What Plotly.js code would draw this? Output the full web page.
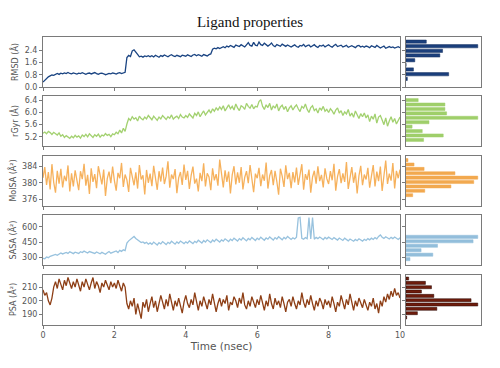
<!DOCTYPE html>
<html>
<head>
<meta charset="utf-8">
<script src="https://cdn.plot.ly/plotly-3.0.1.min.js"></script>
<style>html,body{margin:0;padding:0;background:#fff;}#chart{width:500px;height:368px;}</style>
</head>
<body>
<div id="chart"></div>
<script>
// ---- Data ----
const TIME_STEP_NS = 0.05;
const CHART_TITLE = "Ligand properties";
const X_TITLE = "Time (nsec)";
const xTickVals = [0, 2, 4, 6, 8, 10];

const panelNames = ["RMSD (Å)", "rGyr (Å)", "MolSA (Å²)", "SASA (Å²)", "PSA (Å²)"];

const rmsd = [
  0.32,0.45,0.58,0.66,0.72,0.78,0.76,0.84,0.88,0.82,0.9,0.86,0.92,0.87,0.94,0.88,0.85,0.91,0.89,0.84,
  0.9,0.87,0.93,0.86,0.82,0.88,0.91,0.85,0.89,0.94,0.87,0.83,0.88,0.9,0.86,0.8,0.84,0.89,0.86,0.91,
  0.88,0.84,0.9,0.93,0.87,0.91,0.95,1.92,2.05,1.98,2.35,2.42,2.3,2.12,1.96,2.0,1.94,2.02,1.98,2.04,
  1.97,2.03,1.95,2.06,2.0,1.93,2.04,1.99,2.08,2.01,1.96,2.05,2.1,2.02,1.98,2.06,2.03,1.97,2.07,2.04,
  2.0,2.09,2.05,1.98,2.08,2.12,2.03,2.1,2.06,2.0,2.11,2.07,2.02,2.1,2.15,2.45,2.52,2.48,2.56,2.5,
  2.58,2.62,2.55,2.66,2.6,2.7,2.64,2.58,2.72,2.68,2.63,2.75,2.69,2.6,2.74,2.88,2.7,2.66,2.9,2.72,
  2.68,2.92,2.75,2.7,2.85,2.78,2.66,2.74,2.86,2.69,2.62,2.76,2.71,2.65,2.79,2.7,2.64,2.73,2.68,2.6,
  2.67,2.74,2.63,2.58,2.7,2.66,2.77,2.62,2.69,2.73,2.6,2.68,2.75,2.64,2.57,2.7,2.66,2.72,2.61,2.68,
  2.74,2.65,2.59,2.7,2.77,2.63,2.68,2.72,2.6,2.66,2.71,2.58,2.64,2.69,2.62,2.56,2.67,2.7,2.6,2.65,
  2.58,2.66,2.62,2.55,2.68,2.63,2.57,2.7,2.61,2.54,2.6,2.66,2.52,2.58,2.63,2.56,2.6,2.53,2.57,2.62,2.55
];
const rgyr = [
  5.32,5.36,5.3,5.38,5.34,5.28,5.35,5.31,5.26,5.33,5.22,5.27,5.18,5.24,5.2,5.15,5.22,5.17,5.25,5.19,
  5.23,5.16,5.26,5.21,5.28,5.2,5.3,5.24,5.18,5.27,5.22,5.29,5.19,5.26,5.23,5.31,5.25,5.28,5.21,5.3,
  5.27,5.35,5.3,5.42,5.33,5.48,5.38,5.62,5.8,5.74,5.86,5.78,5.83,5.72,5.88,5.8,5.76,5.85,5.79,5.9,
  5.82,5.76,5.88,5.8,5.74,5.85,5.79,5.9,5.83,5.77,5.86,5.81,5.92,5.78,5.84,5.88,5.8,5.93,5.85,5.82,
  5.9,5.84,5.95,5.88,5.82,5.97,5.9,6.02,5.86,5.96,6.05,5.92,6.0,6.08,5.98,6.12,6.04,6.15,6.08,6.18,
  6.1,6.22,6.05,6.16,6.25,6.12,6.2,6.08,6.28,6.15,6.06,6.22,6.18,6.1,6.3,6.2,6.14,6.26,6.12,6.2,
  6.18,6.36,6.42,6.2,6.1,6.25,6.16,6.3,6.08,6.22,6.14,6.28,6.05,6.18,6.24,6.1,6.2,6.02,6.15,6.22,
  6.08,6.18,6.25,6.12,6.03,6.2,6.14,6.28,6.1,6.0,6.16,6.22,6.06,6.12,5.98,6.15,6.08,6.2,6.04,6.1,
  6.0,6.12,6.05,5.94,6.08,6.15,5.98,6.06,5.9,6.02,5.95,6.1,5.88,5.98,5.84,6.05,5.92,5.8,5.96,5.86,
  5.98,5.82,5.92,5.7,5.88,5.78,5.95,5.65,5.85,5.9,5.75,5.6,5.82,5.55,5.72,5.86,5.68,5.8,5.62,5.75,5.85
];
const molsa = [
  381.2,383.8,379.5,382.6,378.4,384.5,380.1,377.6,382.9,379.8,383.4,378.9,381.7,380.4,384.2,377.9,382.3,379.1,383.0,380.6,
  378.2,382.8,380.9,384.6,379.3,381.9,377.3,383.5,380.2,382.1,378.7,384.0,381.4,379.6,383.2,376.8,381.0,382.7,379.9,383.9,
  380.5,378.1,382.4,381.1,384.8,379.0,382.0,380.7,377.8,383.6,381.5,379.4,382.5,378.6,384.3,380.8,381.8,377.2,383.1,380.0,
  382.2,379.2,384.1,381.3,378.3,382.8,380.3,383.7,379.7,381.6,385.2,378.8,382.0,380.9,383.3,377.5,381.2,382.6,379.5,384.4,
  380.7,382.9,378.5,381.8,383.9,379.8,381.0,377.9,382.4,380.4,384.7,379.1,382.3,381.4,378.2,383.5,380.6,382.1,379.3,385.6,
  381.5,378.9,383.0,380.2,382.7,377.4,381.9,384.0,379.6,382.5,380.0,383.8,378.4,381.3,382.8,379.9,384.3,380.8,377.7,382.2,
  381.1,383.6,379.2,382.0,380.5,384.9,378.6,381.7,383.1,379.4,382.9,380.3,377.1,383.4,381.6,379.0,384.2,380.9,382.4,378.7,
  382.6,380.1,383.7,379.5,381.8,384.5,378.3,382.1,380.7,383.2,377.6,381.4,382.9,379.8,384.0,380.4,381.9,378.9,383.5,381.0,
  379.7,382.8,380.6,384.6,378.1,381.5,383.3,379.9,382.3,380.2,385.0,378.5,381.2,383.8,380.0,382.5,377.4,381.7,384.1,379.4,
  382.0,380.8,383.6,378.8,381.6,384.3,379.1,382.7,380.4,383.9,378.0,381.3,385.4,379.7,382.2,380.5,384.8,378.6,382.9,381.1,383.2
];
const sasa = [
  292,288,305,298,312,318,325,330,322,338,345,335,342,350,340,355,348,338,352,346,
  340,356,348,362,350,344,358,352,346,340,354,348,336,350,344,332,346,358,342,350,
  352,364,348,370,360,375,368,440,462,478,492,505,485,470,458,445,452,438,448,430,
  442,428,450,436,422,445,432,455,440,426,448,435,458,444,430,452,438,460,446,435,
  452,440,462,448,436,458,445,468,452,440,465,450,472,458,446,470,455,478,462,450,
  472,460,482,468,455,478,465,488,472,460,484,470,492,476,462,485,472,495,480,466,
  488,474,498,482,468,490,478,500,485,470,494,480,502,486,472,496,482,505,490,476,
  492,480,498,685,690,486,478,494,484,688,480,690,478,496,484,500,488,474,495,482,
  498,486,476,494,482,470,490,478,466,488,474,462,480,470,458,476,464,482,470,460,
  478,466,484,472,488,476,494,482,505,520,498,486,502,490,480,496,484,500,488,476,492
];
const psa = [
  208,204,206,200,197,202,210,214,209,216,212,208,215,211,217,213,209,214,210,216,
  212,207,214,210,216,211,208,213,217,209,214,211,206,213,210,215,212,208,214,210,
  213,209,215,211,207,213,210,198,194,200,196,202,190,198,193,187,199,195,201,192,
  198,203,195,200,192,197,204,199,194,201,196,205,198,193,200,196,202,197,191,199,
  204,198,195,201,197,206,199,193,200,196,203,198,194,201,197,205,199,192,198,202,
  196,201,198,204,193,199,197,203,200,195,202,198,206,197,194,200,196,203,199,195,
  201,197,204,199,193,200,196,205,198,194,202,197,200,195,203,198,192,199,201,196,
  203,198,194,200,197,206,199,195,201,197,204,198,193,200,196,202,199,194,201,197,
  200,195,203,198,192,199,196,204,198,194,201,197,205,199,193,200,196,202,198,195,
  201,197,193,199,196,202,194,198,191,200,196,203,199,205,201,207,203,209,204,206,202
];

// Histogram bins (centres) and bar lengths (counts)
const rmsdBins   = [0.53, 0.83, 1.14, 1.44, 1.74, 2.05, 2.35, 2.65, 2.95];
const rmsdCounts = [4, 126, 22, 0, 26, 100, 108, 212, 60];
const rgyrBins   = [5.10, 5.245, 5.39, 5.535, 5.68, 5.825, 5.97, 6.115, 6.26, 6.405];
const rgyrCounts = [52, 110, 48, 18, 68, 212, 120, 115, 115, 36];
const molsaBins   = [377.0, 378.06, 379.12, 380.18, 381.24, 382.3, 383.36, 384.42, 385.48];
const molsaCounts = [20, 56, 134, 202, 214, 146, 54, 24, 6];
const sasaBins   = [284, 327.5, 371, 414.5, 458, 501.5];
const sasaCounts = [12, 80, 45, 94, 200, 214];
const psaBins   = [187.8, 190.96, 194.12, 197.28, 200.44, 203.6, 206.76, 209.92, 213.08, 216.24];
const psaCounts = [2, 34, 92, 214, 194, 83, 46, 76, 58, 8];

// Y tick values per panel
const rmsdTicks  = [0, 0.8, 1.6, 2.4];
const rgyrTicks  = [5.2, 5.6, 6.0, 6.4];
const molsaTicks = [376, 380, 384];
const sasaTicks  = [300, 450, 600];
const psaTicks   = [190, 200, 210];

// ---- Styling / layout ----
const W = 500, H = 368;
const lineColors = ["#1a4482", "#a3d170", "#f6b15c", "#98c2de", "#8e3f16"];
const barColors  = ["#1b3f7c", "#9fcf6a", "#f2a94f", "#93bedb", "#6e1c0c"];
const barEdges   = ["#142f5e", "#9fcf6a", "#f2a94f", "#93bedb", "#2a0905"];
const yRanges = [[0, 3.25], [4.9, 6.54], [374.5, 386.6], [227, 714], [182.7, 219.2]];
const panelTopsPx = [37, 96, 155.5, 215, 274.5];
const PANEL_H = 50;
const mainX = [43 / W, 400 / W];
const histX = [406 / W, 481 / W];
const frameColor = "#7a7a7a";
const tickFont = {family: "DejaVu Sans", size: 8, color: "#555"};

const series = [rmsd, rgyr, molsa, sasa, psa];
const bins = [rmsdBins, rgyrBins, molsaBins, sasaBins, psaBins];
const counts = [rmsdCounts, rgyrCounts, molsaCounts, sasaCounts, psaCounts];
const ticks = [rmsdTicks, rgyrTicks, molsaTicks, sasaTicks, psaTicks];
const time = rmsd.map((_, i) => +(i * TIME_STEP_NS).toFixed(2));

const data = [];
const layout = {
  width: W, height: H,
  margin: {l: 0, r: 0, t: 0, b: 0},
  paper_bgcolor: "#fff", plot_bgcolor: "#fff",
  showlegend: false,
  bargap: 0.3,
  title: {
    text: CHART_TITLE,
    font: {family: "Liberation Serif", size: 15, color: "#111"},
    x: 0.5, xanchor: "center", y: 1 - 22 / H, yanchor: "middle"
  }
};

for (let p = 0; p < 5; p++) {
  const mi = p + 1, hi = p + 6;
  const top = panelTopsPx[p], bot = top + PANEL_H;
  const dom = [1 - bot / H, 1 - top / H];
  const isLast = p === 4;
  const tickText = ticks[p].map(v => p <= 1 ? v.toFixed(1) : String(v));

  data.push({
    type: "scatter", mode: "lines",
    x: time, y: series[p],
    xaxis: "x" + (mi === 1 ? "" : mi), yaxis: "y" + (mi === 1 ? "" : mi),
    line: {color: lineColors[p], width: 1.3},
    hoverinfo: "skip"
  });
  data.push({
    type: "bar", orientation: "h",
    x: counts[p], y: bins[p],
    xaxis: "x" + hi, yaxis: "y" + hi,
    marker: {color: barColors[p], line: {color: barEdges[p], width: 0.5}},
    hoverinfo: "skip"
  });

  const xk = "xaxis" + (mi === 1 ? "" : mi), yk = "yaxis" + (mi === 1 ? "" : mi);
  layout[xk] = {
    domain: mainX, anchor: "y" + (mi === 1 ? "" : mi),
    range: [0, 10], tickvals: xTickVals, ticktext: xTickVals.map(String),
    showticklabels: isLast, ticks: "outside", ticklen: 3, tickcolor: frameColor,
    showline: true, mirror: true, linecolor: frameColor, linewidth: 1,
    showgrid: false, zeroline: false, tickfont: tickFont,
    title: isLast ? {text: X_TITLE, font: {family: "DejaVu Sans", size: 10.5, color: "#555"}, standoff: 3} : {text: ""}
  };
  layout[yk] = {
    domain: dom, anchor: "x" + (mi === 1 ? "" : mi),
    range: yRanges[p], tickvals: ticks[p], ticktext: tickText,
    ticks: "outside", ticklen: 3, tickcolor: frameColor,
    showline: true, mirror: true, linecolor: frameColor, linewidth: 1,
    showgrid: false, zeroline: false, tickfont: tickFont,
    title: {text: panelNames[p], font: {family: "DejaVu Sans", size: 8, color: "#555"}, standoff: 4}
  };
  const maxC = Math.max(...counts[p]);
  layout["xaxis" + hi] = {
    domain: histX, anchor: "y" + hi,
    range: [0, maxC * 1.045],
    showticklabels: false, ticks: "",
    showline: true, mirror: true, linecolor: frameColor, linewidth: 1,
    showgrid: false, zeroline: false
  };
  layout["yaxis" + hi] = {
    domain: dom, anchor: "x" + hi,
    range: yRanges[p], tickvals: ticks[p],
    showticklabels: false, ticks: "outside", ticklen: 3, tickcolor: frameColor,
    showline: true, mirror: true, linecolor: frameColor, linewidth: 1,
    showgrid: false, zeroline: false
  };
}

Plotly.newPlot("chart", data, layout, {staticPlot: true, displayModeBar: false});
</script>
</body>
</html>
